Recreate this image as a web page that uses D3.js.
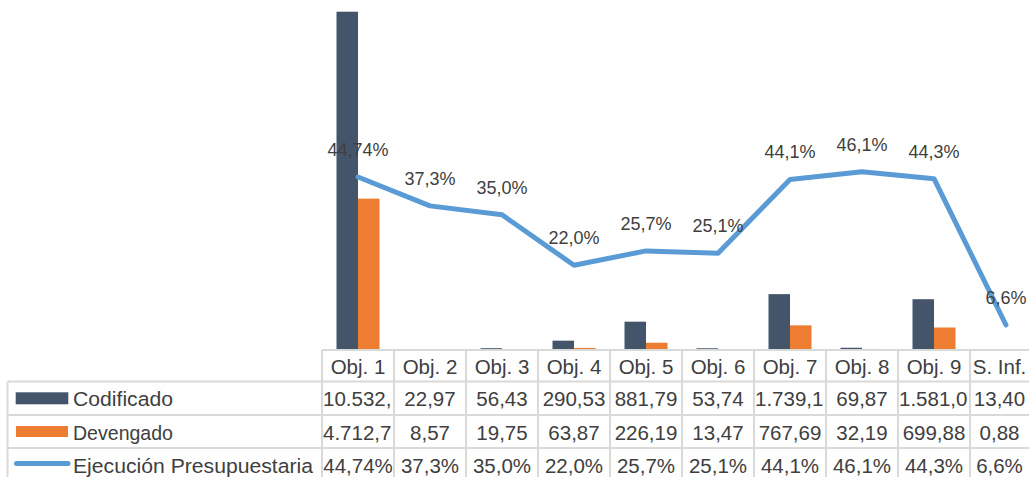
<!DOCTYPE html>
<html>
<head>
<meta charset="utf-8">
<script src="https://cdn.jsdelivr.net/npm/d3@7"></script>
<style>
  html, body { margin: 0; padding: 0; background: #fff; overflow: hidden; }
  svg { display: block; }
  text { font-family: "Liberation Sans", Arial, sans-serif; fill: #404040; }
</style>
</head>
<body>
<svg id="chart" width="1029" height="477"></svg>
<script>
const categories = ["Obj. 1", "Obj. 2", "Obj. 3", "Obj. 4", "Obj. 5", "Obj. 6", "Obj. 7", "Obj. 8", "Obj. 9", "S. Inf."];
const codificado = [10532.50, 22.97, 56.43, 290.53, 881.79, 53.74, 1739.12, 69.87, 1581.05, 13.40];
const devengado = [4712.70, 8.57, 19.75, 63.87, 226.19, 13.47, 767.69, 32.19, 699.88, 0.88];
const ejecucion = [44.74, 37.3, 35.0, 22.0, 25.7, 25.1, 44.1, 46.1, 44.3, 6.6];
const ejecucionDecimals = [2, 1, 1, 1, 1, 1, 1, 1, 1, 1];
const seriesNames = ["Codificado", "Devengado", "Ejecución Presupuestaria"];
const colors = { cod: "#44546A", dev: "#ED7D31", line: "#5B9BD5", grid: "#D9D9D9" };

const W = 1029, H = 477;
const svg = d3.select("#chart");

const loc = d3.formatLocale({ decimal: ",", thousands: ".", grouping: [3], currency: ["", ""] });
const fmtNum = loc.format(",.2f");
const fmtPct = (v, d) => loc.format("." + d + "f")(v) + "%";

// Scales
const baseY = 350;
const x = d3.scaleBand().domain(categories).range([322, 322 + 72 * categories.length]).padding(0);
const xSub = d3.scaleBand().domain(["cod", "dev"]).range([x.bandwidth() / 2 - 21.5, x.bandwidth() / 2 + 21.5]).padding(0);
const y = d3.scaleLinear().domain([0, d3.max(codificado)]).range([baseY, 11.7]);
const y2 = d3.scaleLinear().domain([0, 50]).range([350.6, 156.6]);

// Bars
const groups = svg.append("g").selectAll("g").data(categories).join("g")
  .attr("transform", d => `translate(${x(d)},0)`);
groups.append("rect")
  .attr("x", xSub("cod")).attr("width", xSub.bandwidth())
  .attr("y", (d, i) => y(codificado[i])).attr("height", (d, i) => baseY - y(codificado[i]))
  .attr("fill", colors.cod);
groups.append("rect")
  .attr("x", xSub("dev")).attr("width", xSub.bandwidth())
  .attr("y", (d, i) => y(devengado[i])).attr("height", (d, i) => baseY - y(devengado[i]))
  .attr("fill", colors.dev);

// Data table
const rowEdges = [350, 381.5, 415, 448, 481];
const tableLeft = 7.5;
const grid = svg.append("g").attr("stroke", colors.grid).attr("stroke-width", 2).attr("fill", "none");
const xEnd = x.range()[1];
grid.append("line").attr("x1", x.range()[0]).attr("x2", xEnd).attr("y1", rowEdges[0]).attr("y2", rowEdges[0]);
for (let r = 1; r < rowEdges.length - 1; r++) {
  grid.append("line").attr("x1", tableLeft).attr("x2", xEnd).attr("y1", rowEdges[r]).attr("y2", rowEdges[r]);
}
grid.append("line").attr("x1", tableLeft).attr("x2", tableLeft).attr("y1", rowEdges[1]).attr("y2", H + 5);
categories.forEach((c, i) => {
  grid.append("line").attr("x1", x(c)).attr("x2", x(c)).attr("y1", rowEdges[0]).attr("y2", H + 5);
});
grid.append("line").attr("x1", xEnd).attr("x2", xEnd).attr("y1", rowEdges[0]).attr("y2", H + 5);

const fontSize = 20.5;
const tableG = svg.append("g").style("font-size", fontSize + "px");

function cellText(str, colIdx, baseline) {
  const left = x(categories[colIdx]);
  const fullW = x.bandwidth();
  const right = Math.min(left + fullW, W);
  const t = tableG.append("text").attr("y", baseline).text(str);
  if (t.node().getComputedTextLength() > fullW) {
    let s = str;
    while (s.length > 1 && t.node().getComputedTextLength() > fullW - 1) {
      s = s.slice(0, -1);
      t.text(s);
    }
    t.attr("x", left + 1).attr("text-anchor", "start");
  } else {
    t.attr("x", (left + right) / 2).attr("text-anchor", "middle");
  }
}

const baselines = [374.3, 406.3, 439.5, 472.7];
categories.forEach((c, i) => {
  cellText(c, i, baselines[0]);
  cellText(fmtNum(codificado[i]), i, baselines[1]);
  cellText(fmtNum(devengado[i]), i, baselines[2]);
  cellText(fmtPct(ejecucion[i], ejecucionDecimals[i]), i, baselines[3]);
});

// Legend keys in table
const legG = svg.append("g");
legG.append("rect").attr("x", 15.7).attr("y", 392.3).attr("width", 52.6).attr("height", 12).attr("fill", colors.cod);
legG.append("rect").attr("x", 16).attr("y", 426).attr("width", 52).attr("height", 11).attr("fill", colors.dev);
legG.append("line").attr("x1", 16.5).attr("x2", 68).attr("y1", 463.5).attr("y2", 463.5)
  .attr("stroke", colors.line).attr("stroke-width", 5).attr("stroke-linecap", "round");
seriesNames.forEach((n, i) => {
  tableG.append("text").attr("x", 73).attr("y", baselines[i + 1])
    .attr("textLength", [100, 100, 240][i]).attr("lengthAdjust", "spacingAndGlyphs").text(n);
});

// Line
const cx = c => x(c) + x.bandwidth() / 2;
const line = d3.line().x((d, i) => cx(categories[i])).y(d => y2(d));
svg.append("path").datum(ejecucion).attr("d", line)
  .attr("fill", "none").attr("stroke", colors.line).attr("stroke-width", 5)
  .attr("stroke-linejoin", "round").attr("stroke-linecap", "round");

// Labels
svg.append("g").style("font-size", "18px").selectAll("text").data(ejecucion).join("text")
  .attr("x", (d, i) => cx(categories[i]))
  .attr("y", d => y2(d) - 21)
  .attr("text-anchor", "middle")
  .text((d, i) => fmtPct(d, ejecucionDecimals[i]));
</script>
</body>
</html>
